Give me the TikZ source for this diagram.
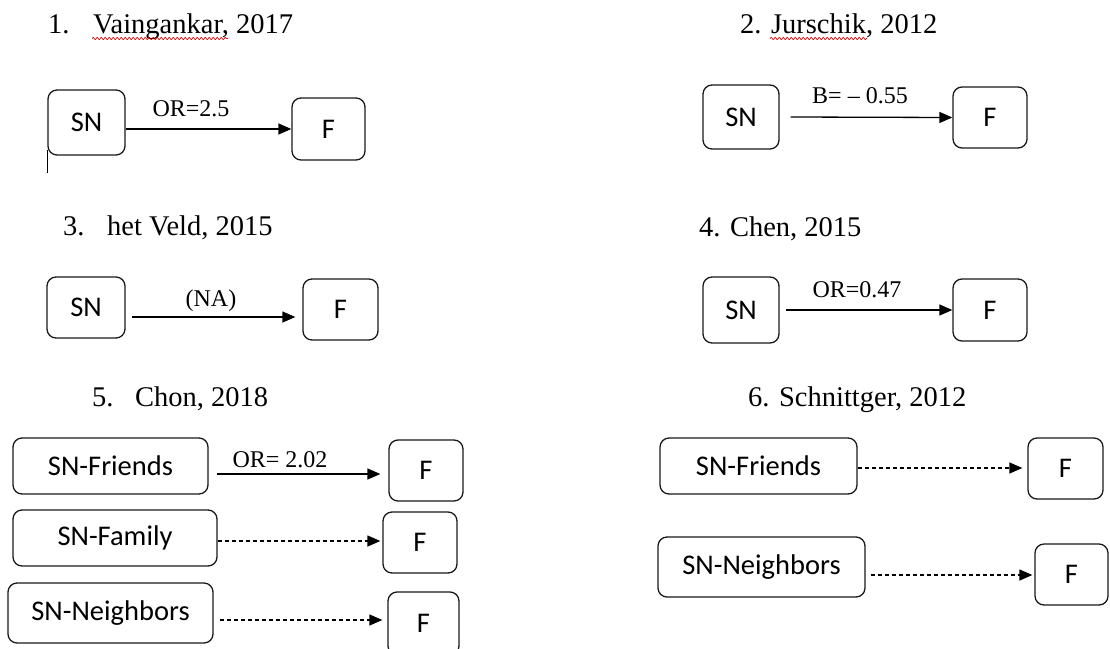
\documentclass[tikz,border=0pt]{standalone}
\usepackage{fontspec}
\setmainfont{Liberation Serif}
\newfontfamily\boxfont{Carlito}
\usetikzlibrary{arrows.meta,decorations.pathmorphing}

\tikzset{
  box/.style={draw=black!90, line width=1.3pt, rounded corners=9pt, inner sep=0pt,
    font=\boxfont\fontsize{28.5}{30}\selectfont},
  heading/.style={anchor=base west, inner sep=0pt, font=\fontsize{28.5}{30}\selectfont},
  lab/.style={anchor=base, inner sep=0pt, font=\fontsize{24}{26}\selectfont},
  arr/.style={line width=1.3pt, -{Triangle[length=13pt,width=11pt]}},
  dasharr/.style={arr, dash pattern=on 4pt off 3pt},
  spell/.style={red!85!black, line width=0.7pt,
    decorate, decoration={snake, amplitude=1.1pt, segment length=4pt}}
}

\begin{document}
\begin{tikzpicture}[x=1pt,y=-1pt]
\clip (0,0) rectangle (1110,648);
\fill[white] (0,0) rectangle (1110,648);

% ---- 1. Vaingankar
\node[heading] (n1) at (48,33) {1.};
\node[heading] (t1) at (93,33) {Vaingankar, 2017};
\draw[spell] (92,38.5) -- (228,38.5);
\node[box, minimum width=77pt, minimum height=65pt] (s1) at (86.5,122.5) {SN};
\node[box, minimum width=73pt, minimum height=62pt] (f1) at (328.5,129) {F};
\draw[arr] (s1.east |- f1.west) -- (f1.west);
\node[lab] (l1) at (191,116) {OR=2.5};
\draw[line width=1.3pt] ([shift={(0,-6)}]s1.south west) -- ++(0,23);

% ---- 2. Jurschik
\node[heading] (t2) at (740,33) {2. Jurschik, 2012};
\draw[spell] (770,38.5) -- (867,38.5);
\node[box, minimum width=76pt, minimum height=64pt] (s2) at (741,117) {SN};
\node[box, minimum width=74pt, minimum height=61pt] (f2) at (990,117.5) {F};
\draw[arr] ([xshift=11]s2.east) -- (f2.west);
\node[lab] (l2) at (860,103) {B= -- 0.55};

% ---- 3. het Veld
\node[heading] (n3) at (63,235) {3.};
\node[heading] (t3) at (107,235) {het Veld, 2015};
\node[box, minimum width=78pt, minimum height=61pt] (s3) at (86,307.5) {SN};
\node[box, minimum width=75pt, minimum height=61pt] (f3) at (340.5,309.5) {F};
\draw[arr] ([shift={(6,9.5)}]s3.east) -- ([shift={(-7,7.5)}]f3.west);
\node[lab] (l3) at (211,306) {(NA)};

% ---- 4. Chen
\node[heading] (t4) at (699,236) {4. Chen, 2015};
\node[box, minimum width=76pt, minimum height=66pt] (s4) at (741,310) {SN};
\node[box, minimum width=74pt, minimum height=62pt] (f4) at (990,310) {F};
\draw[arr] ([xshift=6]s4.east) -- (f4.west);
\node[lab] (l4) at (857,297) {OR=0.47};

% ---- 5. Chon
\node[heading] (n5) at (92,406) {5.};
\node[heading] (t5) at (135,406) {Chon, 2018};
\node[box, minimum width=195pt, minimum height=56pt] (a1) at (110.5,466) {SN-Friends};
\node[box, minimum width=204pt, minimum height=56pt] (a2) at (115,538) {SN-Family};
\node[box, minimum width=205pt, minimum height=60pt] (a3) at (110.5,613) {SN-Neighbors};
\node[box, minimum width=74pt, minimum height=61pt] (b1) at (426,470.5) {F};
\node[box, minimum width=74pt, minimum height=61pt] (b2) at (420,542.5) {F};
\node[box, minimum width=71pt, minimum height=63pt] (b3) at (423.5,623.5) {F};
\draw[arr] ([shift={(8,8)}]a1.east) -- ([shift={(-8,3.5)}]b1.west);
\node[lab] (l5) at (280,467) {OR= 2.02};
\draw[dasharr] ([shift={(0,3)}]a2.east) -- ([shift={(-2,-1.5)}]b2.west);
\draw[dasharr] ([shift={(6,7)}]a3.east) -- ([shift={(-5,-3.5)}]b3.west);

% ---- 6. Schnittger
\node[heading] (t6) at (748,406) {6. Schnittger, 2012};
\node[box, minimum width=197pt, minimum height=56pt] (c1) at (758.5,466) {SN-Friends};
\node[box, minimum width=75pt, minimum height=61pt] (d1) at (1065.5,468.5) {F};
\draw[dasharr] ([shift={(0,2)}]c1.east) -- ([shift={(-5,-0.5)}]d1.west);
\node[box, minimum width=207pt, minimum height=60pt] (c2) at (761.5,567) {SN-Neighbors};
\node[box, minimum width=73pt, minimum height=61pt] (d2) at (1071.5,574.5) {F};
\draw[dasharr] ([shift={(5,8)}]c2.east) -- ([shift={(-2,0.5)}]d2.west);
\end{tikzpicture}
\end{document}
